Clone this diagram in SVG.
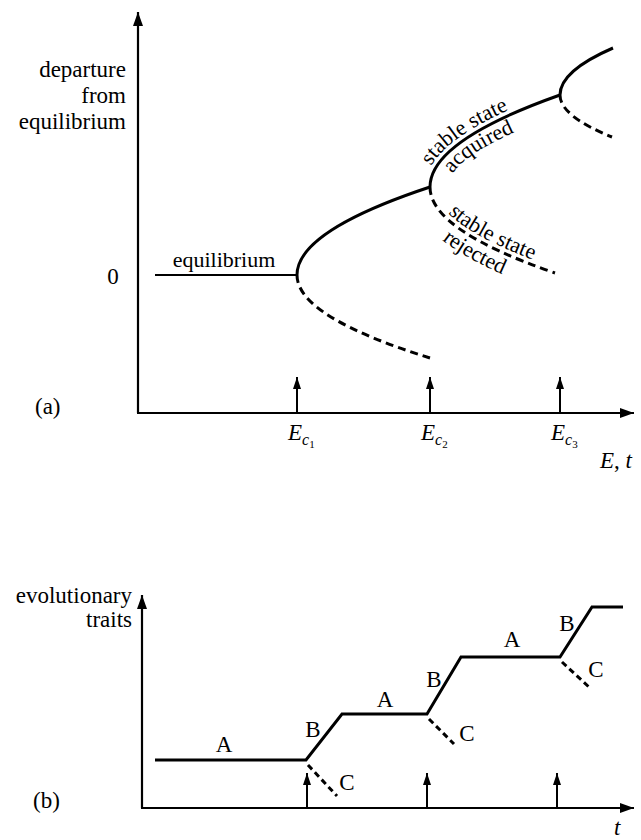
<svg xmlns="http://www.w3.org/2000/svg" width="641" height="840" viewBox="0 0 641 840">
<style>
text{font-family:"Liberation Serif","Times New Roman",serif;fill:#000}
.lbl{font-size:23px}
.crv{font-size:22px}
.it{font-style:italic}
.ax{stroke:#000;stroke-width:2.2;fill:none}
.sol{stroke:#000;stroke-width:3;fill:none}
.dsh{stroke:#000;stroke-width:3;fill:none;stroke-dasharray:8 5}
.dshb{stroke:#000;stroke-width:3;fill:none;stroke-dasharray:6 4}
.thin{stroke:#000;stroke-width:2;fill:none}
</style>
<defs>
<marker id="ah" markerUnits="userSpaceOnUse" markerWidth="14" markerHeight="12" refX="14" refY="5" orient="auto"><path d="M0,0 L14,5 L0,10 z" fill="#000"/></marker>
<marker id="ahs" markerUnits="userSpaceOnUse" markerWidth="12" markerHeight="10" refX="12" refY="4" orient="auto"><path d="M0,0 L12,4 L0,8 z" fill="#000"/></marker>
<path id="pAcqTop" d="M 425 187 Q 425 137.5 558.3 90.3"/>
<path id="pAcqBot" d="M 448 187 Q 448 153.7 566 112"/>
<path id="pRejTop" d="M 435 187 Q 435 226.5 556.6 268.3"/>
<path id="pRejBot" d="M 410 187 Q 410 244.3 548.5 291.9"/>
</defs>

<g id="panel-a">
<g id="a-axes">
<line class="ax" x1="138" y1="413" x2="138" y2="12" marker-end="url(#ah)"/>
<line class="ax" x1="137" y1="413" x2="634" y2="413" marker-end="url(#ah)"/>
<line class="thin" x1="297" y1="413" x2="297" y2="377" marker-end="url(#ahs)"/>
<line class="thin" x1="430" y1="413" x2="430" y2="377" marker-end="url(#ahs)"/>
<line class="thin" x1="560" y1="413" x2="560" y2="377" marker-end="url(#ahs)"/>
</g>
<g id="a-curves">
<line class="thin" x1="155" y1="275" x2="297" y2="275"/>
<path class="sol" d="M 297 275 Q 297 231 430 187"/>
<path class="dsh" d="M 297 275 Q 297 316.5 430 358"/>
<path class="sol" d="M 430 187 Q 430 141 560 95"/>
<path class="dsh" d="M 430 187 Q 430 230 555 273"/>
<path class="sol" d="M 560 95 Q 560 71 613 48"/>
<path class="dsh" d="M 560 95 Q 560 116 612 137"/>
</g>
<g id="a-labels">
<text class="lbl" x="126" y="77" text-anchor="end">departure</text>
<text class="lbl" x="126" y="103" text-anchor="end">from</text>
<text class="lbl" x="126" y="129" text-anchor="end">equilibrium</text>
<text class="lbl" x="113" y="284" text-anchor="middle">0</text>
<text class="crv" x="224" y="267" text-anchor="middle">equilibrium</text>
<text class="lbl" x="35" y="414">(a)</text>
<text class="crv"><textPath href="#pAcqTop" startOffset="22">stable state</textPath></text>
<text class="crv"><textPath href="#pAcqBot" startOffset="14">acquired</textPath></text>
<text class="crv"><textPath href="#pRejTop" startOffset="30">stable state</textPath></text>
<text class="crv"><textPath href="#pRejBot" startOffset="64">rejected</textPath></text>
<text class="lbl it" x="288" y="440">E<tspan dy="5" style="font-size:16px">c</tspan><tspan dy="3" style="font-size:11px;font-style:normal">1</tspan></text>
<text class="lbl it" x="421" y="440">E<tspan dy="5" style="font-size:16px">c</tspan><tspan dy="3" style="font-size:11px;font-style:normal">2</tspan></text>
<text class="lbl it" x="551" y="440">E<tspan dy="5" style="font-size:16px">c</tspan><tspan dy="3" style="font-size:11px;font-style:normal">3</tspan></text>
<text class="lbl it" x="600" y="468">E<tspan style="font-style:normal">,</tspan> t</text>
</g>
</g>

<g id="panel-b">
<g id="b-axes">
<line class="ax" x1="142" y1="808" x2="142" y2="595" marker-end="url(#ah)"/>
<line class="ax" x1="141" y1="808" x2="634" y2="808" marker-end="url(#ah)"/>
<line class="thin" x1="307" y1="808" x2="307" y2="773" marker-end="url(#ahs)"/>
<line class="thin" x1="427" y1="808" x2="427" y2="773" marker-end="url(#ahs)"/>
<line class="thin" x1="557" y1="808" x2="557" y2="773" marker-end="url(#ahs)"/>
</g>
<g id="b-curves">
<polyline class="sol" points="155,760 306,760 342,714 427,714 461,657 560,657 592,607 623,607" stroke-linejoin="miter"/>
<line class="dshb" x1="308" y1="765" x2="337" y2="796"/>
<line class="dshb" x1="429" y1="719" x2="454" y2="744"/>
<line class="dshb" x1="562" y1="662" x2="590" y2="688"/>
</g>
<g id="b-labels">
<text class="lbl" x="132" y="603" text-anchor="end">evolutionary</text>
<text class="lbl" x="132" y="627" text-anchor="end">traits</text>
<text class="lbl" x="33" y="808">(b)</text>
<text class="lbl" x="224" y="752" text-anchor="middle">A</text>
<text class="lbl" x="313" y="737" text-anchor="middle">B</text>
<text class="lbl" x="385" y="707" text-anchor="middle">A</text>
<text class="lbl" x="434" y="687" text-anchor="middle">B</text>
<text class="lbl" x="512" y="647" text-anchor="middle">A</text>
<text class="lbl" x="567" y="631" text-anchor="middle">B</text>
<text class="lbl" x="347" y="790" text-anchor="middle">C</text>
<text class="lbl" x="467" y="741" text-anchor="middle">C</text>
<text class="lbl" x="596" y="677" text-anchor="middle">C</text>
<text class="lbl it" x="614" y="835">t</text>
</g>
</g>
</svg>
